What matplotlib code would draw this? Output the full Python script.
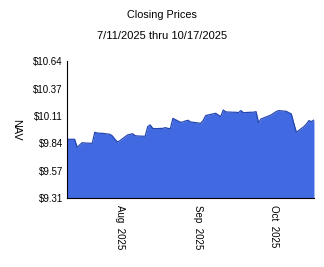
import numpy as np
import matplotlib
matplotlib.use('Agg')
import matplotlib.pyplot as plt
import matplotlib.dates as mdates
import pandas as pd

plt.rcParams['font.family'] = ['Liberation Sans', 'DejaVu Sans']

# closing NAV by trading day
dates = ['2025-07-11', '2025-07-14', '2025-07-15', '2025-07-16', '2025-07-17', '2025-07-18',
         '2025-07-21', '2025-07-22', '2025-07-23', '2025-07-24', '2025-07-25',
         '2025-07-28', '2025-07-29', '2025-07-30', '2025-07-31', '2025-08-01',
         '2025-08-04', '2025-08-05', '2025-08-06', '2025-08-07', '2025-08-08',
         '2025-08-11', '2025-08-12', '2025-08-13', '2025-08-14', '2025-08-15',
         '2025-08-18', '2025-08-19', '2025-08-20', '2025-08-21', '2025-08-22',
         '2025-08-25', '2025-08-26', '2025-08-27', '2025-08-28', '2025-08-29',
         '2025-09-02', '2025-09-03', '2025-09-04', '2025-09-05',
         '2025-09-08', '2025-09-09', '2025-09-10', '2025-09-11', '2025-09-12',
         '2025-09-15', '2025-09-16', '2025-09-17', '2025-09-18', '2025-09-19',
         '2025-09-22', '2025-09-23', '2025-09-24', '2025-09-25', '2025-09-26',
         '2025-09-29', '2025-09-30', '2025-10-01', '2025-10-02', '2025-10-03',
         '2025-10-06', '2025-10-07', '2025-10-08', '2025-10-09', '2025-10-10',
         '2025-10-13', '2025-10-14', '2025-10-15', '2025-10-16', '2025-10-17']
nav = [9.880, 9.880, 9.802, 9.825, 9.847, 9.844,
       9.841, 9.948, 9.941, 9.938, 9.938,
       9.928, 9.912, 9.880, 9.854, 9.867,
       9.922, 9.928, 9.934, 9.915, 9.912,
       9.909, 10.002, 10.019, 9.986, 9.983,
       9.986, 9.993, 9.986, 9.983, 10.083,
       10.045, 10.048, 10.058, 10.064, 10.048,
       10.035, 10.061, 10.109, 10.116,
       10.132, 10.116, 10.100, 10.164, 10.145,
       10.142, 10.142, 10.138, 10.158, 10.138,
       10.142, 10.142, 10.148, 10.041, 10.077,
       10.106, 10.116, 10.132, 10.148, 10.158,
       10.151, 10.138, 10.126, 10.035, 9.948,
       10.002, 10.028, 10.061, 10.051, 10.067]
yticks = [9.31, 9.57, 9.84, 10.11, 10.37, 10.64]

df = pd.DataFrame({'date': pd.to_datetime(dates), 'nav': nav})

fig = plt.figure(figsize=(3.24, 2.67), dpi=100)
ax = fig.add_axes([0.207, 0.258, 0.762, 0.514])

ax.fill_between(df['date'], df['nav'], 9.31, color='#4169E1', linewidth=0)
ax.plot(df['date'], df['nav'], color='#2346b0', linewidth=0.9)

ax.set_ylim(9.31, 10.64)
ax.set_xlim(df['date'].iloc[0], df['date'].iloc[-1])
ax.set_yticks(yticks)
ax.set_yticklabels(['$%.2f' % v for v in yticks])

ax.xaxis.set_major_locator(mdates.MonthLocator())
ax.xaxis.set_major_formatter(mdates.DateFormatter('%b  %Y'))
for lbl in ax.get_xticklabels():
    lbl.set_rotation(270)
    lbl.set_va('top')
    lbl.set_ha('center')

ax.tick_params(length=0, labelsize=7, pad=3)
ax.tick_params(axis='x', pad=5)
ax.spines['top'].set_visible(False)
ax.spines['right'].set_visible(False)
ax.set_ylabel('NAV', rotation=270, fontsize=7.8, labelpad=16)

fig.text(0.5, 0.945, 'Closing Prices', ha='center', va='center', fontsize=7.8)
fig.text(0.5, 0.865, '7/11/2025 thru 10/17/2025', ha='center', va='center', fontsize=8)

fig.savefig('out.png', dpi=100)
